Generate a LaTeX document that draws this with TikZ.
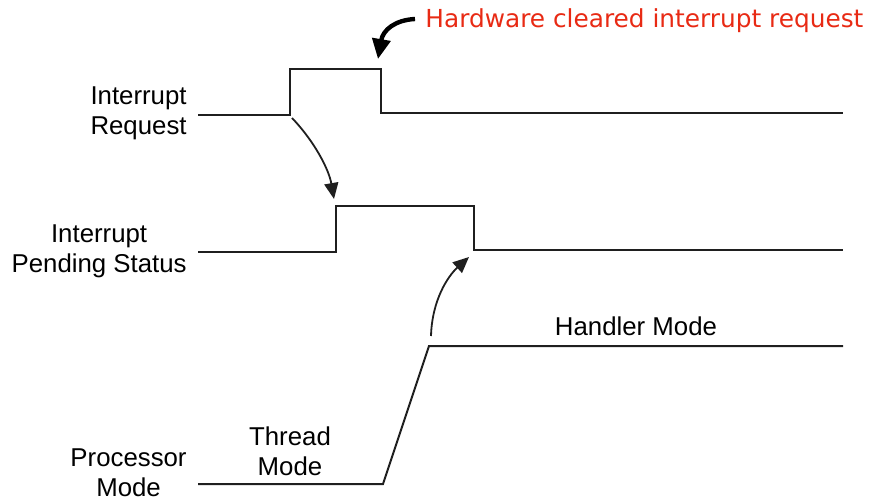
\documentclass[tikz,border=0pt]{standalone}
\usepackage{fontspec}
\setmainfont{Liberation Sans}
\newfontfamily\notefont{DejaVu Sans}
\usetikzlibrary{arrows.meta}
\definecolor{notered}{RGB}{232,42,20}

\begin{document}
\begin{tikzpicture}[
    x=0.5pt, y=-0.5pt,
    every node/.style={font=\fontsize{12.9}{15}\selectfont, inner sep=0pt},
    siglabel/.style={anchor=east},
    wave/.style={line width=1pt, draw=black!88, line join=miter},
    arrow/.style={line width=0.9pt, draw=black!88, -{Triangle[length=8pt, width=7pt]}},
    notearrow/.style={line width=2.2pt, draw=black, -{Triangle[length=10pt, width=9pt]}},
    note/.style={font=\notefont\fontsize{12.4}{15}\selectfont, text=notered, anchor=west}
]

\useasboundingbox (0,0) rectangle (871,502);

% Signal names (left)
\node[siglabel, align=right] (irq) at (187,113) {Interrupt\\Request};
\node[siglabel, align=center] (pend) at (187,251) {Interrupt\\Pending Status};
\node[siglabel, align=center] (mode) at (187,473) {Processor\\Mode};

% Waveforms
\draw[wave] (198,115) -- (290,115) -- (290,69) -- (381,69) -- (381,113) -- (843,113);
\draw[wave] (198,252) -- (336,252) -- (336,206) -- (474,206) -- (474,250) -- (843,250);
\draw[wave] (198,484) -- (383,484) -- (429,346) -- (843,346);

% Mode names
\node[align=center] (thread) at (290,451) {Thread\\Mode};
\node (handler) at (636,326) {Handler Mode};

% Note
\node[note] (hwnote) at (425,21) {Hardware cleared interrupt request};

% Arrow end points
\coordinate (irqedge) at (292,118);
\coordinate (pendset) at (334,199);
\coordinate (modeedge) at (431,336);
\coordinate (pendclr) at (469,257);
\coordinate (notestart) at (415,19);
\coordinate (irqclr) at (378,59);

% Arrows
\draw[arrow] (irqedge) .. controls (315,142) and (329,170) .. (pendset);
\draw[arrow] (modeedge) .. controls (432,300) and (448,276) .. (pendclr);
\draw[notearrow] (notestart) .. controls (395,20) and (383,30) .. (irqclr);

\end{tikzpicture}
\end{document}
